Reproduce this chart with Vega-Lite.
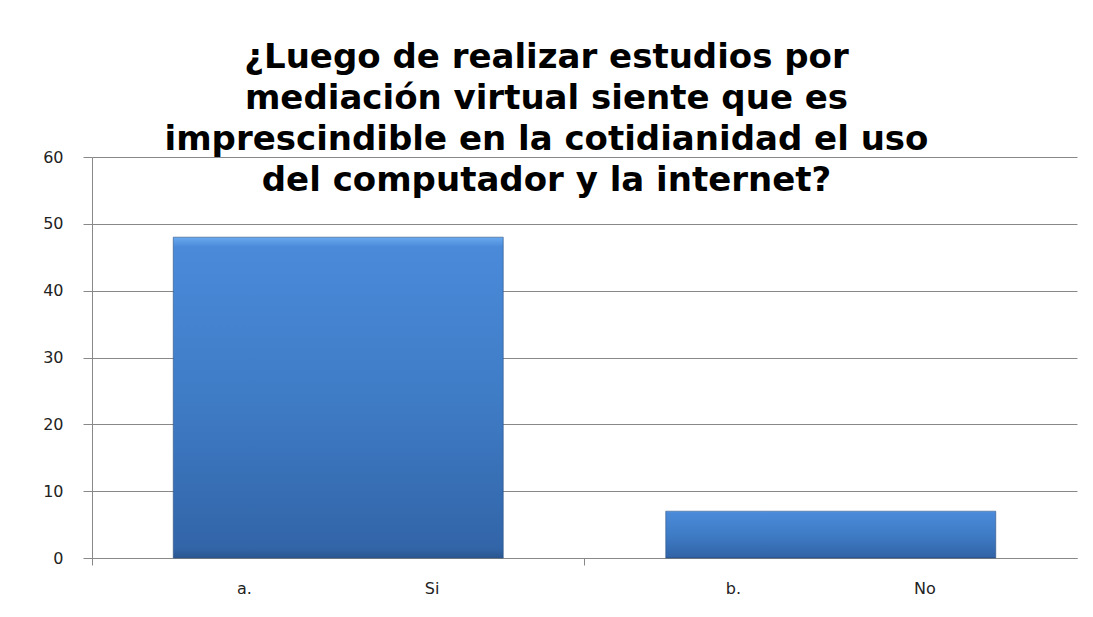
{
  "$schema": "https://vega.github.io/schema/vega-lite/v6.json",
  "autosize": "none",
  "width": 985,
  "height": 401,
  "padding": {"left": 92, "top": 157, "right": 16, "bottom": 59},
  "background": "white",
  "title": {
    "text": ["¿Luego de realizar estudios por", "mediación virtual siente que es", "imprescindible en la cotidianidad el uso", "del computador y la internet?"],
    "font": "DejaVu Sans",
    "fontSize": 34,
    "fontWeight": "bold",
    "color": "#000000",
    "lineHeight": 41,
    "anchor": "middle",
    "dx": -38,
    "offset": -49
  },
  "data": {
    "values": [
      {"opcion": "a.", "respuesta": "Si", "valor": 48},
      {"opcion": "b.", "respuesta": "No", "valor": 7}
    ]
  },
  "mark": {
    "type": "bar",
    "width": {"band": 0.67},
    "stroke": "#2b5083",
    "strokeWidth": 1,
    "strokeOpacity": 0.6,
    "color": {
      "gradient": "linear",
      "x1": 0, "y1": 0, "x2": 0, "y2": 1,
      "stops": [
        {"offset": 0, "color": "#6aaaf0"},
        {"offset": 0.03, "color": "#4a8ad9"},
        {"offset": 0.5, "color": "#3f7cc6"},
        {"offset": 0.97, "color": "#3265a8"},
        {"offset": 1, "color": "#2a5690"}
      ]
    }
  },
  "encoding": {
    "x": {
      "field": "opcion",
      "type": "nominal",
      "sort": null,
      "scale": {"paddingInner": 0, "paddingOuter": 0},
      "axis": {
        "title": null,
        "labelAngle": 0,
        "labelFont": "DejaVu Sans",
        "labelFontSize": 16,
        "labelColor": "#222222",
        "labelPadding": 15,
        "labelLimit": 0,
        "tickSize": 7,
        "tickColor": "#888888",
        "bandPosition": 0,
        "domainColor": "#888888",
        "labelExpr": "datum.label + '\u00a0\u00a0\u00a0\u00a0\u00a0\u00a0\u00a0\u00a0\u00a0\u00a0\u00a0\u00a0\u00a0\u00a0\u00a0\u00a0\u00a0\u00a0\u00a0\u00a0\u00a0\u00a0\u00a0\u00a0\u00a0\u00a0\u00a0\u00a0\u00a0\u00a0\u00a0\u00a0\u00a0\u00a0' + (datum.label == 'a.' ? 'Si' : 'No')"
      }
    },
    "y": {
      "field": "valor",
      "type": "quantitative",
      "scale": {"domain": [0, 60]},
      "axis": {
        "title": null,
        "values": [0, 10, 20, 30, 40, 50, 60],
        "grid": true,
        "gridColor": "#888888",
        "gridOpacity": 1,
        "domainColor": "#888888",
        "tickColor": "#888888",
        "tickSize": 9,
        "labelPadding": 20,
        "labelFont": "DejaVu Sans",
        "labelFontSize": 16,
        "labelColor": "#222222"
      }
    }
  },
  "config": {
    "view": {"stroke": null}
  }
}
